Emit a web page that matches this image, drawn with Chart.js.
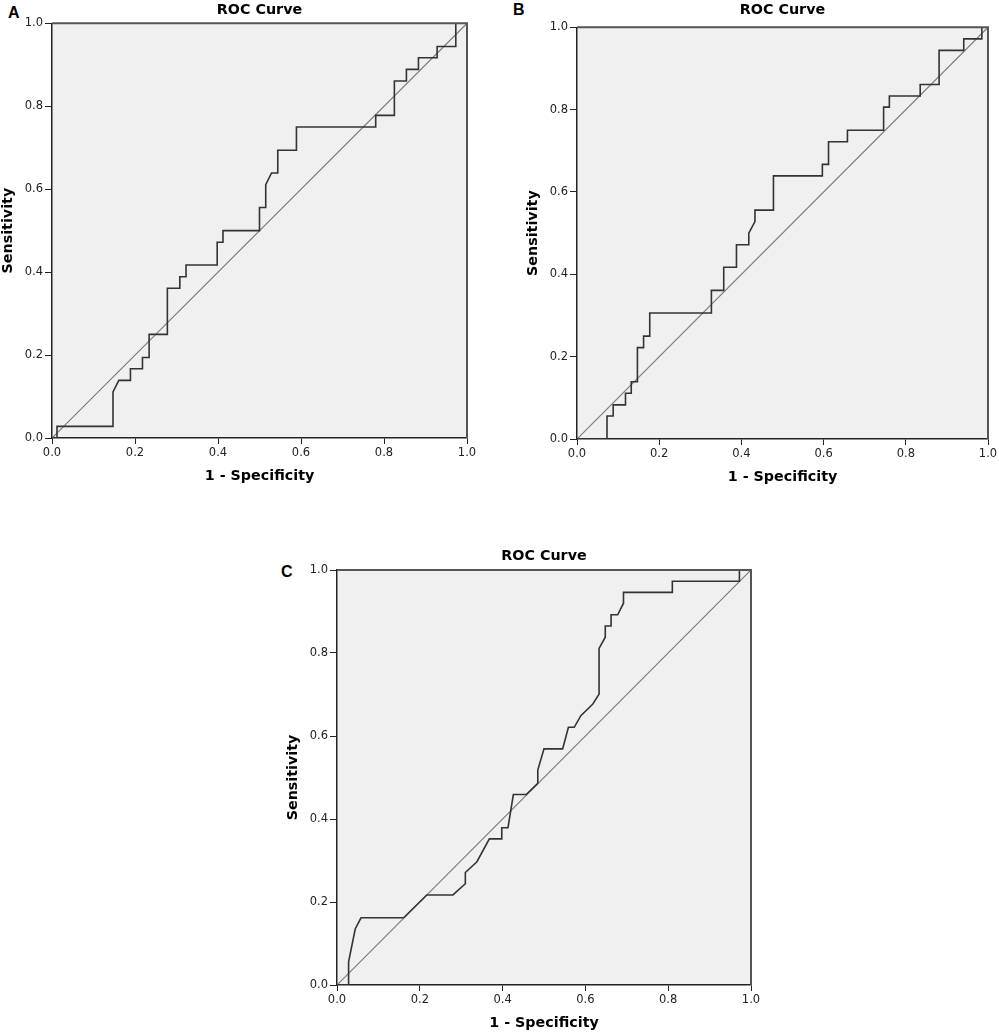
<!DOCTYPE html>
<html><head><meta charset="utf-8">
<script src="https://cdn.jsdelivr.net/npm/chart.js@4.4.1/dist/chart.umd.min.js"></script>
<style>
html,body{margin:0;padding:0;background:#fff;}
body{width:999px;height:1035px;position:relative;overflow:hidden;}
.panel{position:absolute;}
.panel canvas{display:block;}
.letter{position:absolute;font-family:"Liberation Sans",Arial,sans-serif;font-weight:bold;font-size:16px;line-height:16px;color:#000;}
</style></head><body>
<div class="letter" style="left:8px;top:4.5px">A</div>
<div class="letter" style="left:513px;top:1.5px">B</div>
<div class="letter" style="left:281px;top:564px">C</div>
<div class="panel" style="left:0px;top:0px;width:479px;height:488px"><canvas id="cA" width="479" height="488"></canvas></div>
<div class="panel" style="left:525px;top:0px;width:475px;height:489px"><canvas id="cB" width="475" height="489"></canvas></div>
<div class="panel" style="left:285px;top:540px;width:478px;height:495px"><canvas id="cC" width="478" height="495"></canvas></div>
<script>
// ---- data ----
const fprA = [0,0.012,0.012,0.147,0.147,0.161,0.189,0.189,0.218,0.218,0.234,0.234,0.278,0.278,0.308,0.308,0.323,0.323,0.398,0.398,0.412,0.412,0.5,0.5,0.515,0.515,0.529,0.544,0.544,0.589,0.589,0.780,0.780,0.825,0.825,0.854,0.854,0.883,0.883,0.928,0.928,0.973,0.973,1];
const tprA = [0,0,0.028,0.028,0.111,0.139,0.139,0.167,0.167,0.194,0.194,0.25,0.25,0.361,0.361,0.389,0.389,0.417,0.417,0.472,0.472,0.5,0.5,0.556,0.556,0.611,0.639,0.639,0.694,0.694,0.75,0.75,0.778,0.778,0.861,0.861,0.889,0.889,0.917,0.917,0.944,0.944,1,1];
const fprB = [0,0.073,0.073,0.088,0.088,0.118,0.118,0.132,0.132,0.147,0.147,0.162,0.162,0.177,0.177,0.327,0.327,0.357,0.357,0.388,0.388,0.418,0.418,0.433,0.433,0.478,0.478,0.597,0.597,0.612,0.612,0.658,0.658,0.746,0.746,0.760,0.760,0.835,0.835,0.881,0.881,0.941,0.941,0.985,0.985,1];
const tprB = [0,0,0.056,0.056,0.083,0.083,0.111,0.111,0.139,0.139,0.222,0.222,0.25,0.25,0.306,0.306,0.361,0.361,0.417,0.417,0.472,0.472,0.5,0.528,0.556,0.556,0.639,0.639,0.667,0.667,0.722,0.722,0.75,0.75,0.806,0.806,0.833,0.833,0.861,0.861,0.944,0.944,0.972,0.972,1,1];
const fprC = [0,0.028,0.028,0.044,0.058,0.161,0.217,0.28,0.31,0.31,0.338,0.368,0.398,0.398,0.413,0.426,0.457,0.485,0.485,0.5,0.545,0.559,0.573,0.589,0.618,0.633,0.633,0.648,0.648,0.662,0.662,0.678,0.692,0.692,0.81,0.81,0.972,0.972,1];
const tprC = [0,0,0.056,0.135,0.162,0.162,0.217,0.217,0.244,0.271,0.297,0.352,0.352,0.379,0.379,0.459,0.459,0.486,0.518,0.569,0.569,0.621,0.621,0.649,0.677,0.701,0.811,0.838,0.865,0.865,0.892,0.892,0.92,0.946,0.946,0.973,0.973,1,1];
const diagX = [0,1];
const diagY = [0,1];
const tickValues = [0,0.2,0.4,0.6,0.8,1];
const tickLabels = ['0.0','0.2','0.4','0.6','0.8','1.0'];
const chartTitle = 'ROC Curve';
const xTitle = '1 - Specificity';
const yTitle = 'Sensitivity';

// ---- drawing ----
const FONT = '"DejaVu Sans", Verdana, sans-serif';
const pts = (xs, ys) => xs.map((x, i) => ({x: x, y: ys[i]}));

const plotFrame = {
  id: 'plotFrame',
  beforeDraw(chart) {
    const a = chart.chartArea, ctx = chart.ctx;
    ctx.save();
    ctx.fillStyle = '#f0f0f0';
    ctx.fillRect(a.left, a.top, a.right - a.left, a.bottom - a.top);
    ctx.restore();
  },
  afterDraw(chart) {
    const a = chart.chartArea, ctx = chart.ctx;
    ctx.save();
    ctx.strokeStyle = '#555';
    ctx.lineWidth = 2;
    ctx.beginPath();
    ctx.moveTo(a.left, a.top);
    ctx.lineTo(a.right, a.top);
    ctx.lineTo(a.right, a.bottom);
    ctx.stroke();
    ctx.restore();
  }
};

function axis(titleText, isX) {
  return {
    type: 'linear',
    min: 0, max: 1,
    afterBuildTicks(scale) { scale.ticks = tickValues.map(v => ({value: v})); },
    afterFit(scale) { if (isX) scale.height = 50; else scale.width = 52; },
    ticks: {
      autoSkip: false,
      maxRotation: 0,
      padding: isX ? 2.2 : 2,
      color: '#222',
      font: {family: FONT, size: 11.5},
      callback(v, i) { return tickLabels[i]; }
    },
    grid: {display: true, drawOnChartArea: false, drawTicks: true, tickLength: isX ? 6 : 7, color: '#222', lineWidth: 1},
    border: {display: true, color: '#222', width: 1.5},
    title: {
      display: true, text: titleText, color: '#000',
      font: {family: FONT, size: 14.3, weight: 'bold'},
      padding: isX ? {top: 0, bottom: 3} : {top: 0, bottom: 0}
    }
  };
}

function makeChart(id, fpr, tpr, titlePad) {
  new Chart(document.getElementById(id), {
    type: 'scatter',
    data: {
      datasets: [
        {data: pts(fpr, tpr), showLine: true, borderColor: '#333', borderWidth: 1.6, pointRadius: 0, tension: 0, order: 0},
        {data: pts(diagX, diagY), showLine: true, borderColor: '#7d7d7d', borderWidth: 1.2, pointRadius: 0, tension: 0, order: 1}
      ]
    },
    options: {
      responsive: false,
      animation: false,
      events: [],
      layout: {padding: {left: 0, top: 0, right: 12, bottom: 0}},
      scales: {x: axis(xTitle, true), y: axis(yTitle, false)},
      plugins: {
        legend: {display: false},
        tooltip: {enabled: false},
        title: {
          display: true, text: chartTitle, fullSize: false, color: '#000',
          font: {family: FONT, size: 14.3, weight: 'bold'},
          padding: titlePad
        }
      }
    },
    plugins: [plotFrame]
  });
}

makeChart('cA', fprA, tprA, {top: 1.42, bottom: 4.72});
makeChart('cB', fprB, tprB, {top: 1.42, bottom: 8.72});
makeChart('cC', fprC, tprC, {top: 7.42, bottom: 5.42});
</script>
</body></html>
